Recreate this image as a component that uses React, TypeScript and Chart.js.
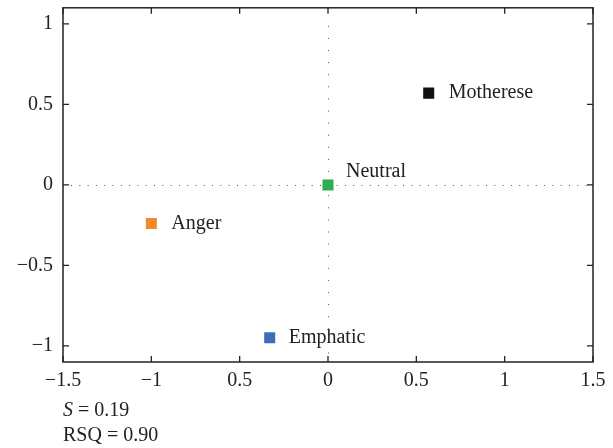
import React, { useEffect, useRef } from "react";
import { Chart, registerables } from "chart.js";

Chart.register(...registerables);

const names = ["Motherese", "Neutral", "Anger", "Emphatic"];
const xValues = [0.57, 0.0, -1.0, -0.33];
const yValues = [0.57, 0.0, -0.24, -0.95];
const colors = ["#111111", "#2fae4e", "#f08a2a", "#3c6db9"];
const labelDx = [20, 18, 20, 19];
const labelDy = [0, -13, 0, 0];

const xTickValues = [-1.5, -1, -0.5, 0, 0.5, 1, 1.5];
const xTickLabels = ["\u22121.5", "\u22121", "0.5", "0", "0.5", "1", "1.5"];
const yTickValues = [-1, -0.5, 0, 0.5, 1];
const yTickLabels = ["\u22121", "\u22120.5", "0", "0.5", "1"];

const statLines = [
  { italic: "S", rest: " = 0.19" },
  { italic: "", rest: "RSQ = 0.90" },
];

const FONT = "'Liberation Serif', 'DejaVu Serif', serif";
const FS = 20;

const decorPlugin = {
  id: "decor",
  beforeDatasetsDraw(chart: any) {
    const { ctx, chartArea: a, scales } = chart;
    const xs = scales.x;
    const ys = scales.y;
    ctx.save();
    ctx.strokeStyle = "#555";
    ctx.lineWidth = 1;
    const x0 = Math.round(xs.getPixelForValue(0)) + 0.5;
    const y0 = Math.round(ys.getPixelForValue(0)) + 0.5;
    ctx.setLineDash([1, 7.3]);
    ctx.beginPath();
    ctx.moveTo(a.left + 8, y0);
    ctx.lineTo(a.right, y0);
    ctx.stroke();
    ctx.setLineDash([1, 11.1]);
    ctx.beginPath();
    ctx.moveTo(x0, a.top + 18);
    ctx.lineTo(x0, a.bottom);
    ctx.stroke();
    ctx.setLineDash([]);
    ctx.restore();
  },
  afterDatasetsDraw(chart: any) {
    const { ctx, chartArea: a, scales } = chart;
    const xs = scales.x;
    const ys = scales.y;
    ctx.save();
    ctx.strokeStyle = "#222";
    ctx.lineWidth = 1.5;
    ctx.strokeRect(a.left, a.top, a.right - a.left, a.bottom - a.top);
    ctx.lineWidth = 1.3;
    const tl = 6;
    xTickValues.forEach((v) => {
      const px = xs.getPixelForValue(v);
      ctx.beginPath();
      ctx.moveTo(px, a.bottom);
      ctx.lineTo(px, a.bottom - tl);
      ctx.moveTo(px, a.top);
      ctx.lineTo(px, a.top + tl);
      ctx.stroke();
    });
    yTickValues.forEach((v) => {
      const py = ys.getPixelForValue(v);
      ctx.beginPath();
      ctx.moveTo(a.left, py);
      ctx.lineTo(a.left + tl, py);
      ctx.moveTo(a.right, py);
      ctx.lineTo(a.right - tl, py);
      ctx.stroke();
    });
    ctx.fillStyle = "#222";
    ctx.font = `${FS}px ${FONT}`;
    ctx.textAlign = "left";
    ctx.textBaseline = "middle";
    names.forEach((n, i) => {
      const px = xs.getPixelForValue(xValues[i]);
      const py = ys.getPixelForValue(yValues[i]);
      ctx.fillText(n, px + labelDx[i], py + labelDy[i]);
    });
    statLines.forEach((s, i) => {
      let x = a.left;
      const y = a.bottom + 49 + i * 25;
      if (s.italic) {
        ctx.font = `italic ${FS}px ${FONT}`;
        ctx.fillText(s.italic, x, y);
        x += ctx.measureText(s.italic).width;
      }
      ctx.font = `${FS}px ${FONT}`;
      ctx.fillText(s.rest, x, y);
    });
    ctx.restore();
  },
};

export default function App() {
  const ref = useRef<HTMLCanvasElement | null>(null);
  useEffect(() => {
    if (!ref.current) return;
    const chart = new Chart(ref.current, {
      type: "scatter",
      data: {
        datasets: [
          {
            data: xValues.map((x, i) => ({ x, y: yValues[i] })),
            pointStyle: "rect",
            pointRadius: 7.8,
            pointBorderWidth: 0,
            backgroundColor: colors,
            borderColor: colors,
          },
        ],
      },
      options: {
        responsive: false,
        animation: false,
        layout: { padding: { left: 0, right: 20, top: 7, bottom: 0 } },
        plugins: {
          legend: { display: false },
          tooltip: { enabled: false },
        },
        scales: {
          x: {
            type: "linear",
            min: -1.5,
            max: 1.5,
            border: { display: false },
            grid: { display: false, drawTicks: false },
            afterBuildTicks: (s: any) => {
              s.ticks = xTickValues.map((v) => ({ value: v }));
            },
            afterFit: (s: any) => {
              s.height = 86;
              s.paddingLeft = 0;
              s.paddingRight = 0;
            },
            ticks: {
              autoSkip: false,
              maxRotation: 0,
              padding: 7,
              color: "#222",
              font: { family: FONT, size: FS },
              callback: (_v: any, i: number) => xTickLabels[i],
            },
          },
          y: {
            type: "linear",
            min: -1.1,
            max: 1.1,
            border: { display: false },
            grid: { display: false, drawTicks: false },
            afterBuildTicks: (s: any) => {
              s.ticks = yTickValues.map((v) => ({ value: v }));
            },
            afterFit: (s: any) => {
              s.width = 63;
              s.paddingTop = 0;
              s.paddingBottom = 0;
            },
            ticks: {
              autoSkip: false,
              padding: 10,
              color: "#222",
              font: { family: FONT, size: FS },
              callback: (_v: any, i: number) => yTickLabels[i],
            },
          },
        },
      },
      plugins: [decorPlugin],
    } as any);
    return () => chart.destroy();
  }, []);
  return (
    <div style={{ position: "fixed", left: 0, top: 0, width: 613, height: 448, background: "#fff" }}>
      <canvas ref={ref} width={613} height={448} style={{ width: 613, height: 448 }} />
    </div>
  );
}
